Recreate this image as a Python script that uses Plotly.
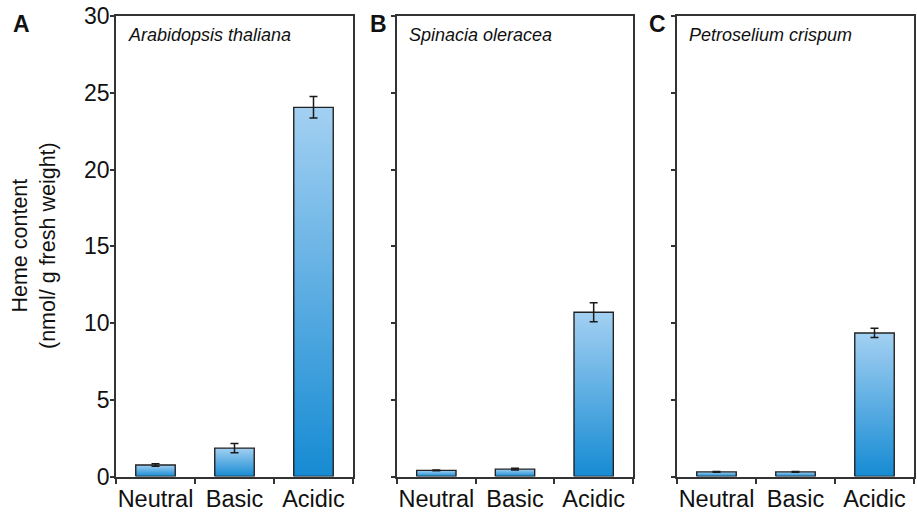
import plotly.graph_objects as go

# ---- data ----
categories = ["Neutral", "Basic", "Acidic"]
species = ["Arabidopsis thaliana", "Spinacia oleracea", "Petroselium crispum"]
panel_letters = ["A", "B", "C"]
vals_A = [0.75, 1.85, 24.05]
errs_A = [0.08, 0.3, 0.7]
vals_B = [0.4, 0.48, 10.7]
errs_B = [0.03, 0.05, 0.62]
vals_C = [0.3, 0.3, 9.35]
errs_C = [0.03, 0.03, 0.3]
y_ticks = [0, 5, 10, 15, 20, 25, 30]
y_title = "Heme content<br>(nmol/ g fresh weight)"

panels = [(vals_A, errs_A), (vals_B, errs_B), (vals_C, errs_C)]

W, H = 917, 518
x_doms_px = [(116, 353), (397, 633), (677, 914)]
y_dom = [1 - 476.5 / H, 1 - 16 / H]
bar_w = 0.5
font_fam = "Liberation Sans, Arial, Helvetica, sans-serif"
frame_col = "#333333"
dark_blue = "#168bd3"
light_blue = "#a3d0f2"

fig = go.Figure()
for p, (vals, errs) in enumerate(panels):
    ax = "" if p == 0 else str(p + 1)
    xref, yref = "x" + ax, "y" + ax
    for i, v in enumerate(vals):
        xs = [i - bar_w / 2, i - bar_w / 2, i + bar_w / 2, i + bar_w / 2, i - bar_w / 2]
        ys = [0, v, v, 0, 0]
        fig.add_trace(go.Scatter(
            x=xs, y=ys, mode="lines", fill="toself",
            line=dict(color="#222222", width=1.4),
            fillgradient=dict(type="vertical",
                              colorscale=[[0, dark_blue], [1, light_blue]]),
            xaxis=xref, yaxis=yref, showlegend=False, hoverinfo="skip"))
    fig.add_trace(go.Scatter(
        x=list(range(len(vals))), y=vals, mode="markers",
        marker=dict(size=1, color="rgba(0,0,0,0)"),
        error_y=dict(type="data", array=errs, color="#1a1a1a",
                     thickness=1.5, width=4),
        xaxis=xref, yaxis=yref, showlegend=False, hoverinfo="skip"))

    x0, x1 = x_doms_px[p]
    fig.layout["xaxis" + ax] = dict(
        domain=[x0 / W, x1 / W], range=[-0.5, 2.5], automargin=False,
        tickmode="array", tickvals=[0, 1, 2], ticktext=categories,
        ticks="", ticklen=0, showgrid=False, zeroline=False,
        showline=True, mirror=True, linecolor=frame_col, linewidth=1.7,
        tickfont=dict(family=font_fam, size=23.5, color="#111111"),
        minor=dict(tickmode="array", tickvals=[-0.5, 0.5, 1.5, 2.5],
                   ticks="outside", ticklen=6, tickwidth=1.5,
                   tickcolor=frame_col, showgrid=False),
        anchor=yref, fixedrange=True)
    fig.layout["yaxis" + ax] = dict(
        domain=y_dom, range=[0, 30], tickmode="array", tickvals=y_ticks,
        automargin=False, ticklabelstandoff=-4,
        ticks="outside", ticklen=4, tickwidth=1.5, tickcolor=frame_col,
        showticklabels=(p == 0), showgrid=False, zeroline=False,
        showline=True, mirror=True, linecolor=frame_col, linewidth=1.7,
        tickfont=dict(family=font_fam, size=23, color="#111111"),
        anchor=xref, fixedrange=True)

    fig.add_annotation(
        xref="paper", yref="paper", x=(x0 + 10) / W, y=1 - 35 / H,
        xanchor="left", yanchor="middle", showarrow=False,
        text="<i>" + species[p] + "</i>",
        font=dict(family=font_fam, size=18, color="#111111"))
    lx = [21, 378, 657][p]
    fig.add_annotation(
        xref="paper", yref="paper", x=lx / W, y=1 - 24 / H,
        xanchor="center", yanchor="middle", showarrow=False,
        text="<b>" + panel_letters[p] + "</b>",
        font=dict(family=font_fam, size=23, color="#111111"))

fig.add_annotation(
    xref="paper", yref="paper", x=34 / W, y=1 - 246 / H,
    xanchor="center", yanchor="middle", showarrow=False, textangle=-90,
    text=y_title, font=dict(family=font_fam, size=21.5, color="#111111"))

fig.update_layout(width=W, height=H, margin=dict(l=0, r=0, t=0, b=0),
                  paper_bgcolor="white", plot_bgcolor="white")

fig.write_html("out.html")
